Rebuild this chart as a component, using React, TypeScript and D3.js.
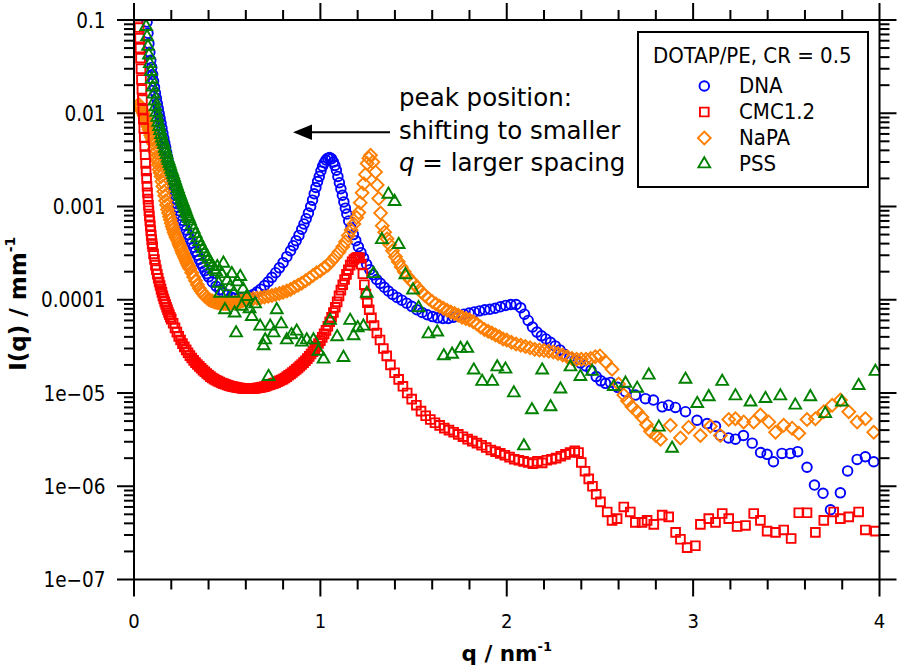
import React from 'react';
import * as d3 from 'd3';

// ---------- data: [q (nm^-1), I(q) (mm^-1)] ----------
const dna: [number, number][] = [
  [0.065,0.13],[0.07,0.095],[0.075,0.072],[0.08,0.056],[0.085,0.045],[0.09,0.037],[0.095,0.031],[0.1,0.026],
  [0.105,0.022],[0.11,0.019],[0.115,0.0165],[0.12,0.0145],[0.125,0.0127],[0.13,0.0112],[0.135,0.0099],[0.14,0.0088],
  [0.145,0.0078],[0.15,0.0069],[0.155,0.0061],[0.16,0.0054],[0.165,0.0048],[0.17,0.0043],[0.175,0.0038],[0.18,0.0034],
  [0.185,0.003],[0.19,0.0027],[0.195,0.0024],[0.2,0.0021],[0.205,0.00188],[0.21,0.00168],[0.215,0.0015],[0.22,0.00134],
  [0.225,0.0012],[0.23,0.00107],[0.235,0.00098],[0.24,0.0009],[0.25,0.0008],[0.26,0.00071],[0.27,0.00063],[0.28,0.00056],
  [0.29,0.0005],[0.3,0.00045],[0.31,0.000405],[0.32,0.000365],[0.33,0.00033],[0.34,0.0003],[0.35,0.00027],[0.36,0.000245],
  [0.37,0.000225],[0.38,0.000205],[0.39,0.00019],[0.4,0.000176],[0.42,0.000155],[0.44,0.00014],[0.46,0.000128],[0.48,0.000119],
  [0.5,0.000112],[0.52,0.000107],[0.54,0.000104],[0.56,0.000102],[0.58,0.000103],[0.6,0.000105],[0.62,0.000109],[0.64,0.000114],
  [0.66,0.000121],[0.68,0.00013],[0.7,0.000142],[0.72,0.000156],[0.74,0.000174],[0.76,0.000195],[0.78,0.00022],[0.8,0.00025],
  [0.82,0.00029],[0.84,0.000335],[0.855,0.00038],[0.87,0.00043],[0.885,0.00049],[0.9,0.00057],[0.912,0.00065],[0.924,0.00074],
  [0.936,0.00085],[0.948,0.001],[0.958,0.00117],[0.967,0.00137],[0.976,0.0016],[0.985,0.00185],[0.994,0.0021],[1.003,0.0024],
  [1.012,0.0027],[1.021,0.00295],[1.03,0.00315],[1.04,0.0033],[1.05,0.00335],[1.06,0.00325],[1.07,0.003],[1.078,0.00275],
  [1.086,0.00245],[1.094,0.0021],[1.102,0.0018],[1.11,0.00155],[1.118,0.00132],[1.126,0.00112],[1.134,0.00096],[1.142,0.00083],
  [1.152,0.0007],[1.164,0.00059],[1.177,0.0005],[1.19,0.00043],[1.204,0.00037],[1.218,0.00032],[1.232,0.00028],[1.248,0.00024],
  [1.265,0.00021],[1.283,0.000185],[1.302,0.000165],[1.322,0.00015],[1.343,0.000136],[1.365,0.000124],[1.388,0.000114],[1.412,0.000106],
  [1.437,9.9e-5],[1.463,9.2e-5],[1.49,8.5e-5],[1.518,7.8e-5],[1.546,7.3e-5],[1.574,6.9e-5],[1.602,6.6e-5],[1.63,6.4e-5],
  [1.658,6.3e-5],[1.686,6.3e-5],[1.714,6.5e-5],[1.742,6.7e-5],[1.77,7.0e-5],[1.798,7.2e-5],[1.826,7.4e-5],[1.854,7.6e-5],
  [1.882,7.8e-5],[1.91,7.9e-5],[1.938,8.1e-5],[1.966,8.4e-5],[1.994,8.7e-5],[2.022,8.9e-5],[2.05,8.9e-5],[2.075,8.2e-5],
  [2.095,7.0e-5],[2.115,6.0e-5],[2.138,5.1e-5],[2.162,4.5e-5],[2.186,4.1e-5],[2.21,3.8e-5],[2.235,3.5e-5],[2.26,3.2e-5],
  [2.285,2.9e-5],[2.31,2.6e-5],[2.338,2.4e-5],[2.366,2.25e-5],[2.395,2.1e-5],[2.424,1.95e-5],[2.452,1.75e-5],[2.48,1.5e-5],
  [2.505,1.35e-5],[2.53,1.27e-5],[2.556,1.3e-5],[2.595,1.15e-5],[2.637,1.03e-5],[2.69,9.5e-6],[2.744,8.7e-6],[2.787,8.4e-6],
  [2.834,7.1e-6],[2.868,7.4e-6],[2.905,7.0e-6],[2.959,6.3e-6],[3.021,5.1e-6],[3.075,4.7e-6],[3.12,4.4e-6],[3.146,3.5e-6],
  [3.19,3.3e-6],[3.227,3.2e-6],[3.27,3.5e-6],[3.317,2.9e-6],[3.362,2.3e-6],[3.397,2.2e-6],[3.431,1.83e-6],[3.477,2.25e-6],
  [3.522,2.25e-6],[3.561,2.35e-6],[3.611,1.6e-6],[3.651,1.03e-6],[3.697,8.4e-7],[3.737,5.6e-7],[3.79,8.5e-7],[3.829,1.46e-6],
  [3.88,1.94e-6],[3.924,2.07e-6],[3.969,1.83e-6],
];

const cmc: [number, number][] = [
  [0.02,0.2],[0.0225,0.15],[0.025,0.11],[0.0275,0.083],[0.03,0.064],[0.0325,0.05],[0.035,0.039],[0.0375,0.03],
  [0.04,0.023],[0.0425,0.018],[0.045,0.014],[0.0475,0.011],[0.05,0.0087],[0.0525,0.0069],[0.055,0.0055],[0.0575,0.0044],
  [0.06,0.0036],[0.0625,0.0029],[0.065,0.0024],[0.0675,0.002],[0.07,0.00165],[0.0725,0.0014],[0.075,0.0012],[0.0775,0.00103],
  [0.08,0.0009],[0.0825,0.00079],[0.085,0.0007],[0.0875,0.00062],[0.09,0.00055],[0.0925,0.00049],[0.095,0.00044],[0.0975,0.0004],
  [0.1,0.00037],[0.105,0.00031],[0.11,0.00027],[0.115,0.000235],[0.12,0.00021],[0.125,0.000188],[0.13,0.00017],[0.135,0.000155],
  [0.14,0.000142],[0.145,0.00013],[0.15,0.00012],[0.155,0.00011],[0.16,0.000102],[0.165,9.5e-5],[0.17,8.9e-5],[0.175,8.3e-5],
  [0.18,7.8e-5],[0.185,7.3e-5],[0.19,6.9e-5],[0.195,6.5e-5],[0.2,6.2e-5],[0.21,5.6e-5],[0.22,5.0e-5],[0.23,4.5e-5],
  [0.24,4.05e-5],[0.25,3.7e-5],[0.26,3.38e-5],[0.27,3.12e-5],[0.28,2.9e-5],[0.29,2.7e-5],[0.3,2.52e-5],[0.31,2.37e-5],
  [0.32,2.24e-5],[0.33,2.12e-5],[0.34,2.02e-5],[0.35,1.93e-5],[0.36,1.84e-5],[0.37,1.76e-5],[0.38,1.69e-5],[0.39,1.62e-5],
  [0.4,1.56e-5],[0.41,1.5e-5],[0.42,1.45e-5],[0.43,1.41e-5],[0.44,1.37e-5],[0.45,1.34e-5],[0.46,1.31e-5],[0.47,1.28e-5],
  [0.48,1.26e-5],[0.49,1.24e-5],[0.5,1.22e-5],[0.51,1.2e-5],[0.52,1.18e-5],[0.53,1.17e-5],[0.54,1.16e-5],[0.55,1.15e-5],
  [0.56,1.14e-5],[0.57,1.13e-5],[0.58,1.12e-5],[0.59,1.12e-5],[0.6,1.11e-5],[0.61,1.11e-5],[0.62,1.11e-5],[0.63,1.11e-5],
  [0.64,1.12e-5],[0.65,1.12e-5],[0.66,1.13e-5],[0.67,1.14e-5],[0.68,1.15e-5],[0.69,1.16e-5],[0.7,1.17e-5],[0.71,1.19e-5],
  [0.72,1.21e-5],[0.73,1.23e-5],[0.74,1.25e-5],[0.75,1.27e-5],[0.76,1.29e-5],[0.77,1.32e-5],[0.78,1.35e-5],[0.79,1.38e-5],
  [0.8,1.41e-5],[0.81,1.45e-5],[0.82,1.5e-5],[0.83,1.55e-5],[0.84,1.6e-5],[0.85,1.66e-5],[0.86,1.72e-5],[0.87,1.79e-5],
  [0.88,1.86e-5],[0.89,1.94e-5],[0.9,2.02e-5],[0.91,2.12e-5],[0.92,2.22e-5],[0.93,2.34e-5],[0.94,2.47e-5],[0.95,2.62e-5],
  [0.96,2.78e-5],[0.97,2.96e-5],[0.98,3.16e-5],[0.99,3.4e-5],[1.0,3.65e-5],[1.01,3.95e-5],[1.02,4.3e-5],[1.03,4.7e-5],
  [1.04,5.2e-5],[1.05,5.8e-5],[1.06,6.5e-5],[1.07,7.3e-5],[1.08,8.3e-5],[1.09,9.5e-5],[1.1,0.00011],[1.11,0.000127],
  [1.12,0.000145],[1.13,0.000165],[1.14,0.000187],[1.15,0.00021],[1.16,0.000235],[1.17,0.000255],[1.18,0.00027],[1.19,0.00028],
  [1.2,0.000285],[1.21,0.00028],[1.22,0.00024],[1.228,0.00019],[1.236,0.000145],[1.244,0.000115],[1.252,9.3e-5],[1.262,7.8e-5],
  [1.274,6.4e-5],[1.288,5.3e-5],[1.303,4.4e-5],[1.32,3.7e-5],[1.338,3.0e-5],[1.356,2.5e-5],[1.376,2.0e-5],[1.398,1.65e-5],
  [1.42,1.4e-5],[1.443,1.18e-5],[1.466,1.0e-5],[1.49,8.6e-6],[1.515,7.4e-6],[1.54,6.4e-6],[1.565,5.7e-6],[1.59,5.2e-6],
  [1.615,4.8e-6],[1.64,4.5e-6],[1.665,4.2e-6],[1.69,4.0e-6],[1.715,3.8e-6],[1.74,3.6e-6],[1.765,3.4e-6],[1.79,3.2e-6],
  [1.815,3.05e-6],[1.84,2.9e-6],[1.865,2.75e-6],[1.89,2.6e-6],[1.915,2.45e-6],[1.94,2.35e-6],[1.965,2.25e-6],[1.99,2.15e-6],
  [2.015,2.05e-6],[2.04,1.95e-6],[2.065,1.9e-6],[2.09,1.85e-6],[2.115,1.8e-6],[2.14,1.75e-6],[2.165,1.85e-6],[2.19,1.78e-6],
  [2.215,1.9e-6],[2.24,1.95e-6],[2.265,2.0e-6],[2.29,2.1e-6],[2.315,2.2e-6],[2.34,2.3e-6],[2.365,2.4e-6],[2.385,2.3e-6],
  [2.4,1.8e-6],[2.42,1.45e-6],[2.44,1.2e-6],[2.46,1.0e-6],[2.48,8.2e-7],[2.503,6.8e-7],[2.539,5.3e-7],[2.565,4.3e-7],
  [2.592,4.5e-7],[2.628,6.0e-7],[2.663,5.3e-7],[2.69,4.1e-7],[2.726,4.1e-7],[2.753,4.3e-7],[2.789,3.9e-7],[2.834,4.9e-7],
  [2.869,4.7e-7],[2.906,3.2e-7],[2.932,2.7e-7],[2.968,2.2e-7],[3.012,2.3e-7],[3.039,3.9e-7],[3.084,4.5e-7],[3.12,4.1e-7],
  [3.156,5.1e-7],[3.191,4.5e-7],[3.236,3.7e-7],[3.281,3.8e-7],[3.325,5.1e-7],[3.361,4.3e-7],[3.397,3.3e-7],[3.442,3.2e-7],
  [3.486,3.4e-7],[3.526,2.75e-7],[3.567,5.2e-7],[3.611,5.2e-7],[3.656,3.2e-7],[3.701,4.3e-7],[3.754,5.3e-7],[3.79,4.5e-7],
  [3.835,4.7e-7],[3.888,5.3e-7],[3.924,3.4e-7],[3.978,3.3e-7],
];

const napa: [number, number][] = [
  [0.025,0.0125],[0.03,0.012],[0.035,0.0115],[0.04,0.011],[0.045,0.0105],[0.05,0.01],[0.055,0.0094],[0.06,0.0088],
  [0.065,0.0082],[0.07,0.0077],[0.075,0.0072],[0.08,0.0067],[0.085,0.0062],[0.09,0.0058],[0.095,0.0055],[0.1,0.0052],
  [0.105,0.0047],[0.11,0.0042],[0.115,0.0038],[0.12,0.0034],[0.125,0.0031],[0.13,0.0028],[0.135,0.0025],[0.14,0.0023],
  [0.145,0.0021],[0.15,0.00185],[0.155,0.00165],[0.16,0.00145],[0.165,0.0013],[0.17,0.00115],[0.175,0.00104],[0.18,0.00093],
  [0.185,0.00085],[0.19,0.00078],[0.195,0.00072],[0.2,0.00066],[0.205,0.00061],[0.21,0.00057],[0.215,0.00053],[0.22,0.0005],
  [0.225,0.00047],[0.23,0.00045],[0.235,0.00043],[0.24,0.0004],[0.245,0.00038],[0.25,0.00036],[0.255,0.00034],[0.26,0.00032],
  [0.265,0.000305],[0.27,0.00029],[0.275,0.000275],[0.28,0.00026],[0.285,0.000247],[0.29,0.000235],[0.295,0.000225],[0.3,0.000215],
  [0.31,0.000195],[0.32,0.000175],[0.33,0.00016],[0.34,0.000145],[0.35,0.000133],[0.36,0.000124],[0.37,0.000117],[0.38,0.00011],
  [0.39,0.000105],[0.4,0.000101],[0.41,9.9e-5],[0.42,9.7e-5],[0.43,9.5e-5],[0.44,9.4e-5],[0.45,9.3e-5],[0.46,9.2e-5],
  [0.47,9.15e-5],[0.48,9.1e-5],[0.49,9.1e-5],[0.5,9.1e-5],[0.51,9.15e-5],[0.52,9.2e-5],[0.53,9.25e-5],[0.54,9.3e-5],
  [0.55,9.4e-5],[0.56,9.5e-5],[0.57,9.6e-5],[0.58,9.7e-5],[0.59,9.85e-5],[0.6,0.0001],[0.62,0.000102],[0.64,0.000103],
  [0.66,0.000104],[0.68,0.000105],[0.7,0.000107],[0.72,0.000109],[0.74,0.000111],[0.76,0.000114],[0.78,0.000117],[0.8,0.00012],
  [0.82,0.000124],[0.84,0.000129],[0.86,0.000136],[0.88,0.000143],[0.9,0.00015],[0.92,0.00016],[0.94,0.00017],[0.96,0.000182],
  [0.98,0.000195],[1.0,0.000205],[1.02,0.00022],[1.04,0.000235],[1.06,0.00026],[1.08,0.00029],[1.1,0.000325],[1.12,0.00037],
  [1.135,0.00042],[1.15,0.00049],[1.165,0.00056],[1.18,0.00065],[1.195,0.00076],[1.206,0.00086],[1.214,0.0011],[1.224,0.0014],
  [1.233,0.00175],[1.242,0.0022],[1.251,0.0029],[1.26,0.0033],[1.269,0.00355],[1.282,0.003],[1.296,0.00235],[1.305,0.0017],
  [1.313,0.00122],[1.323,0.00085],[1.332,0.00062],[1.345,0.00053],[1.358,0.00045],[1.372,0.00039],[1.387,0.000335],[1.403,0.00029],
  [1.418,0.000255],[1.434,0.000225],[1.45,0.0002],[1.466,0.00018],[1.483,0.000163],[1.501,0.00015],[1.52,0.000135],[1.54,0.000122],
  [1.56,0.000112],[1.58,0.000103],[1.6,9.6e-5],[1.62,9.0e-5],[1.64,8.5e-5],[1.66,8.1e-5],[1.68,7.7e-5],[1.7,7.4e-5],
  [1.72,7.1e-5],[1.74,6.8e-5],[1.76,6.5e-5],[1.78,6.3e-5],[1.8,6.1e-5],[1.82,5.8e-5],[1.84,5.5e-5],[1.86,5.1e-5],
  [1.88,4.8e-5],[1.9,4.6e-5],[1.92,4.4e-5],[1.94,4.2e-5],[1.96,4.0e-5],[1.98,3.8e-5],[2.0,3.7e-5],[2.025,3.5e-5],
  [2.05,3.35e-5],[2.075,3.25e-5],[2.1,3.15e-5],[2.125,3.05e-5],[2.15,2.95e-5],[2.175,2.9e-5],[2.2,2.85e-5],[2.225,2.8e-5],
  [2.25,2.75e-5],[2.275,2.65e-5],[2.3,2.55e-5],[2.325,2.45e-5],[2.35,2.35e-5],[2.375,2.3e-5],[2.4,2.3e-5],[2.425,2.3e-5],
  [2.45,2.35e-5],[2.475,2.45e-5],[2.5,2.5e-5],[2.53,2.16e-5],[2.565,1.8e-5],[2.6,1.25e-5],[2.628,9.5e-6],[2.648,8.2e-6],
  [2.672,7.1e-6],[2.7,6.3e-6],[2.726,5.5e-6],[2.75,4.6e-6],[2.771,3.9e-6],[2.8,3.5e-6],[2.825,3.2e-6],[2.878,4.5e-6],
  [2.932,3.3e-6],[2.976,4.3e-6],[3.039,3.5e-6],[3.093,4.4e-6],[3.146,3.5e-6],[3.191,5.2e-6],[3.227,5.3e-6],[3.271,4.9e-6],
  [3.325,4.9e-6],[3.361,5.8e-6],[3.406,4.9e-6],[3.442,3.8e-6],[3.486,4.5e-6],[3.531,4.2e-6],[3.567,3.7e-6],[3.611,5.2e-6],
  [3.656,5.3e-6],[3.701,6.3e-6],[3.746,7.4e-6],[3.79,8.4e-6],[3.835,6.3e-6],[3.88,4.9e-6],[3.924,5.3e-6],[3.969,3.8e-6],
];

const pss: [number, number][] = [
  [0.06,0.11],[0.065,0.085],[0.07,0.066],[0.075,0.052],[0.08,0.042],[0.085,0.034],[0.09,0.028],[0.095,0.023],
  [0.1,0.019],[0.105,0.016],[0.11,0.0135],[0.115,0.0117],[0.12,0.0102],[0.125,0.009],[0.13,0.008],[0.135,0.0072],
  [0.14,0.0065],[0.145,0.0059],[0.15,0.0054],[0.155,0.005],[0.16,0.0046],[0.165,0.0042],[0.17,0.0039],[0.175,0.0036],
  [0.18,0.0033],[0.185,0.0031],[0.19,0.0029],[0.195,0.0027],[0.2,0.0025],[0.205,0.00235],[0.21,0.0022],[0.215,0.00205],
  [0.22,0.0019],[0.225,0.00178],[0.23,0.00166],[0.235,0.00155],[0.24,0.00145],[0.245,0.00136],[0.25,0.00128],[0.255,0.0012],
  [0.26,0.00113],[0.265,0.00106],[0.27,0.001],[0.275,0.00094],[0.28,0.00088],[0.285,0.00083],[0.29,0.00078],[0.295,0.00074],
  [0.3,0.0007],[0.31,0.00063],[0.32,0.00057],[0.33,0.00051],[0.34,0.00046],[0.35,0.00042],[0.36,0.00038],[0.37,0.00035],
  [0.38,0.00032],[0.39,0.00029],[0.4,0.00027],[0.41,0.00025],[0.42,0.00023],[0.43,0.00021],[0.44,0.0002],[0.447,0.000226],
  [0.454,0.00015],[0.462,0.000117],[0.47,0.00019],[0.48,0.000246],[0.488,7.8e-5],[0.5,0.00016],[0.516,0.000138],[0.525,0.00019],
  [0.534,0.000117],[0.54,7.2e-5],[0.548,4.4e-5],[0.555,0.000155],[0.57,0.000177],[0.578,8.5e-5],[0.585,0.00013],[0.605,0.000108],
  [0.62,8.0e-5],[0.632,6.6e-5],[0.65,9.0e-5],[0.677,5.2e-5],[0.695,3.2e-5],[0.704,3.7e-5],[0.722,1.5e-5],[0.731,5.2e-5],
  [0.749,4.4e-5],[0.766,7.8e-5],[0.79,5.5e-5],[0.82,3.7e-5],[0.845,4.2e-5],[0.873,4.6e-5],[0.9,3.5e-5],[0.927,3.7e-5],
  [0.963,3.7e-5],[0.99,2.8e-5],[1.017,2.3e-5],[1.052,6.0e-5],[1.09,4.0e-5],[1.124,2.4e-5],[1.16,6.0e-5],[1.178,4.1e-5],
  [1.2,5.0e-5],[1.231,5.2e-5],[1.249,0.000117],[1.285,0.00019],[1.33,0.00044],[1.365,0.00135],[1.398,0.00113],[1.42,0.00039],
  [1.456,0.000185],[1.497,0.000127],[1.527,8.2e-5],[1.58,4.3e-5],[1.627,4.5e-5],[1.662,2.5e-5],[1.707,2.6e-5],[1.752,3.0e-5],
  [1.788,3.0e-5],[1.823,1.76e-5],[1.868,1.33e-5],[1.922,1.33e-5],[1.949,1.9e-5],[1.993,1.8e-5],[2.038,1.0e-5],[2.092,2.7e-6],
  [2.135,6.6e-6],[2.19,1.76e-5],[2.235,7.1e-6],[2.288,1.1e-5],[2.342,1.9e-5],[2.395,1.5e-5],[2.458,1.7e-5],[2.574,1.17e-5],
  [2.637,1.27e-5],[2.7,1.12e-5],[2.762,1.55e-5],[2.816,4.3e-6],[2.887,2.55e-6],[2.959,1.4e-5],[3.022,7.7e-6],[3.084,9.1e-6],
  [3.156,1.33e-5],[3.227,9.3e-6],[3.308,8.0e-6],[3.388,8.7e-6],[3.468,9.3e-6],[3.548,7.4e-6],[3.629,9.1e-6],[3.709,6.0e-6],
  [3.798,8.0e-6],[3.888,1.2e-5],[3.978,1.7e-5],
];

const legendTitle = 'DOTAP/PE, CR = 0.5';
const seriesNames = ['DNA', 'CMC1.2', 'NaPA', 'PSS'];
const seriesColors = ['#0000ff', '#ff0000', '#ff7f00', '#008000'];
const qMajorTicks = [0, 1, 2, 3, 4];
const qTickLabels = ['0', '1', '2', '3', '4'];
const iMajorTicks = [1e-7, 1e-6, 1e-5, 1e-4, 1e-3, 1e-2, 1e-1];
const iTickLabels = ['1e\u221207', '1e\u221206', '1e\u221205', '0.0001', '0.001', '0.01', '0.1'];

// ---------- layout ----------
const W = 900, H = 669;
const X0 = 134, X1 = 879.5, Y0 = 20, Y1 = 579.5;
const TICK_FONT = "'DejaVu Sans Condensed', 'DejaVu Sans', sans-serif";
const TEXT_FONT = "'DejaVu Sans', sans-serif";

export default function App() {
  const x = d3.scaleLinear().domain([0, 4]).range([X0, X1]);
  const y = d3.scaleLog().domain([1e-7, 0.1]).range([Y1, Y0]);

  const shapes = {
    circle: d3.symbol().type(d3.symbolCircle).size(72)() as string,
    square: d3.symbol().type(d3.symbolSquare).size(76)() as string,
    diamond: d3.symbol().type(d3.symbolSquare).size(82)() as string,
    triangle: d3.symbol().type(d3.symbolTriangle).size(60)() as string,
  };

  const series = [
    { name: seriesNames[0], data: dna, color: seriesColors[0], shape: 'circle' },
    { name: seriesNames[1], data: cmc, color: seriesColors[1], shape: 'square' },
    { name: seriesNames[2], data: napa, color: seriesColors[2], shape: 'diamond' },
    { name: seriesNames[3], data: pss, color: seriesColors[3], shape: 'triangle' },
  ];
  const drawOrder = [series[0], series[2], series[1], series[3]];

  const marker = (shape: string, cx: number, cy: number, color: string, key: any) => (
    <path
      key={key}
      d={(shapes as any)[shape]}
      transform={`translate(${cx},${cy})${shape === 'diamond' ? ' rotate(45)' : ''}`}
      fill="none"
      stroke={color}
      strokeWidth={1.9}
    />
  );

  const qMinor = d3.range(0, 4.0001, 0.2).filter((v) => Math.abs(v - Math.round(v)) > 1e-6);
  const iMinor: number[] = [];
  for (let e = -7; e < -1; e++) for (let k = 2; k <= 9; k++) iMinor.push(k * Math.pow(10, e));

  const ax = { stroke: '#000', strokeWidth: 2 };

  return (
    <svg width={W} height={H} style={{ position: 'absolute', left: 0, top: 0, background: '#fff' }}>
      <defs>
        <clipPath id="plotclip">
          <rect x={X0} y={Y0} width={X1 - X0} height={Y1 - Y0} />
        </clipPath>
      </defs>
      <rect x={0} y={0} width={W} height={H} fill="#fff" />

      <g clipPath="url(#plotclip)">
        {drawOrder.map((s) => (
          <g key={s.name}>
            {s.data.map((d, i) => marker(s.shape, x(d[0]), y(d[1]), s.color, i))}
          </g>
        ))}
      </g>

      {/* frame */}
      <rect x={X0} y={Y0} width={X1 - X0} height={Y1 - Y0} fill="none" {...ax} />

      {/* x ticks bottom & top */}
      {qMajorTicks.map((v) => (
        <g key={'xm' + v}>
          <line x1={x(v)} x2={x(v)} y1={Y1} y2={Y1 + 17} {...ax} />
          <line x1={x(v)} x2={x(v)} y1={Y0} y2={Y0 - 17} {...ax} />
        </g>
      ))}
      {qMinor.map((v, i) => (
        <g key={'xn' + i}>
          <line x1={x(v)} x2={x(v)} y1={Y1} y2={Y1 + 10} {...ax} />
          <line x1={x(v)} x2={x(v)} y1={Y0} y2={Y0 - 10} {...ax} />
        </g>
      ))}
      {qMajorTicks.map((v, i) => (
        <text key={'xl' + v} x={x(v)} y={628} textAnchor="middle" fontFamily={TICK_FONT}
          style={{ fontStretch: 'condensed' }} fontSize={20} fill="#000">{qTickLabels[i]}</text>
      ))}

      {/* y ticks left & right */}
      {iMajorTicks.map((v) => (
        <g key={'ym' + v}>
          <line x1={X0} x2={X0 - 17} y1={y(v)} y2={y(v)} {...ax} />
          <line x1={X1} x2={X1 + 17} y1={y(v)} y2={y(v)} {...ax} />
        </g>
      ))}
      {iMinor.map((v, i) => (
        <g key={'yn' + i}>
          <line x1={X0} x2={X0 - 10} y1={y(v)} y2={y(v)} {...ax} />
          <line x1={X1} x2={X1 + 10} y1={y(v)} y2={y(v)} {...ax} />
        </g>
      ))}
      {iMajorTicks.map((v, i) => (
        <text key={'yl' + v} x={105.5} y={y(v) + 7.5} textAnchor="end" fontFamily={TICK_FONT}
          style={{ fontStretch: 'condensed' }} fontSize={20.5} fill="#000">{iTickLabels[i]}</text>
      ))}

      {/* axis titles */}
      <text x={(X0 + X1) / 2} y={661} textAnchor="middle" fontFamily={TEXT_FONT}
        fontSize={21.5} fontWeight="bold" fill="#000">
        q / nm<tspan fontSize={13} dy={-10}>-1</tspan>
      </text>
      <text transform={`translate(26,${(Y0 + Y1) / 2 + 4}) rotate(-90)`} textAnchor="middle" fontFamily={TEXT_FONT}
        fontSize={23} fontWeight="bold" fill="#000">
        I(q) / mm<tspan fontSize={14} dy={-11}>-1</tspan>
      </text>

      {/* annotation */}
      <g fontFamily={TEXT_FONT} fontSize={24.5} fill="#000">
        <text x={399} y={106}>peak position:</text>
        <text x={399} y={138.5}>shifting to smaller</text>
        <text x={399} y={170.5}><tspan fontStyle="italic">q</tspan> = larger spacing</text>
      </g>
      <line x1={390} x2={310} y1={132.3} y2={132.3} stroke="#000" strokeWidth={2} />
      <path d="M293,132.3 L312,124.5 L312,140.1 Z" fill="#000" />

      {/* legend */}
      <rect x={638} y={32} width={230} height={155} fill="#fff" stroke="#000" strokeWidth={2} />
      <text x={653} y={62.5} fontFamily={TICK_FONT} style={{ fontStretch: 'condensed' }} fontSize={22} fill="#000">
        {legendTitle}
      </text>
      {series.map((s, i) => {
        const cy = 86 + i * 26;
        return (
          <g key={'lg' + s.name}>
            {marker(s.shape, 704.3, cy, s.color, 'm')}
            <text x={739} y={cy + 7} fontFamily={TICK_FONT} style={{ fontStretch: 'condensed' }} fontSize={22} fill="#000">
              {s.name}
            </text>
          </g>
        );
      })}
    </svg>
  );
}
